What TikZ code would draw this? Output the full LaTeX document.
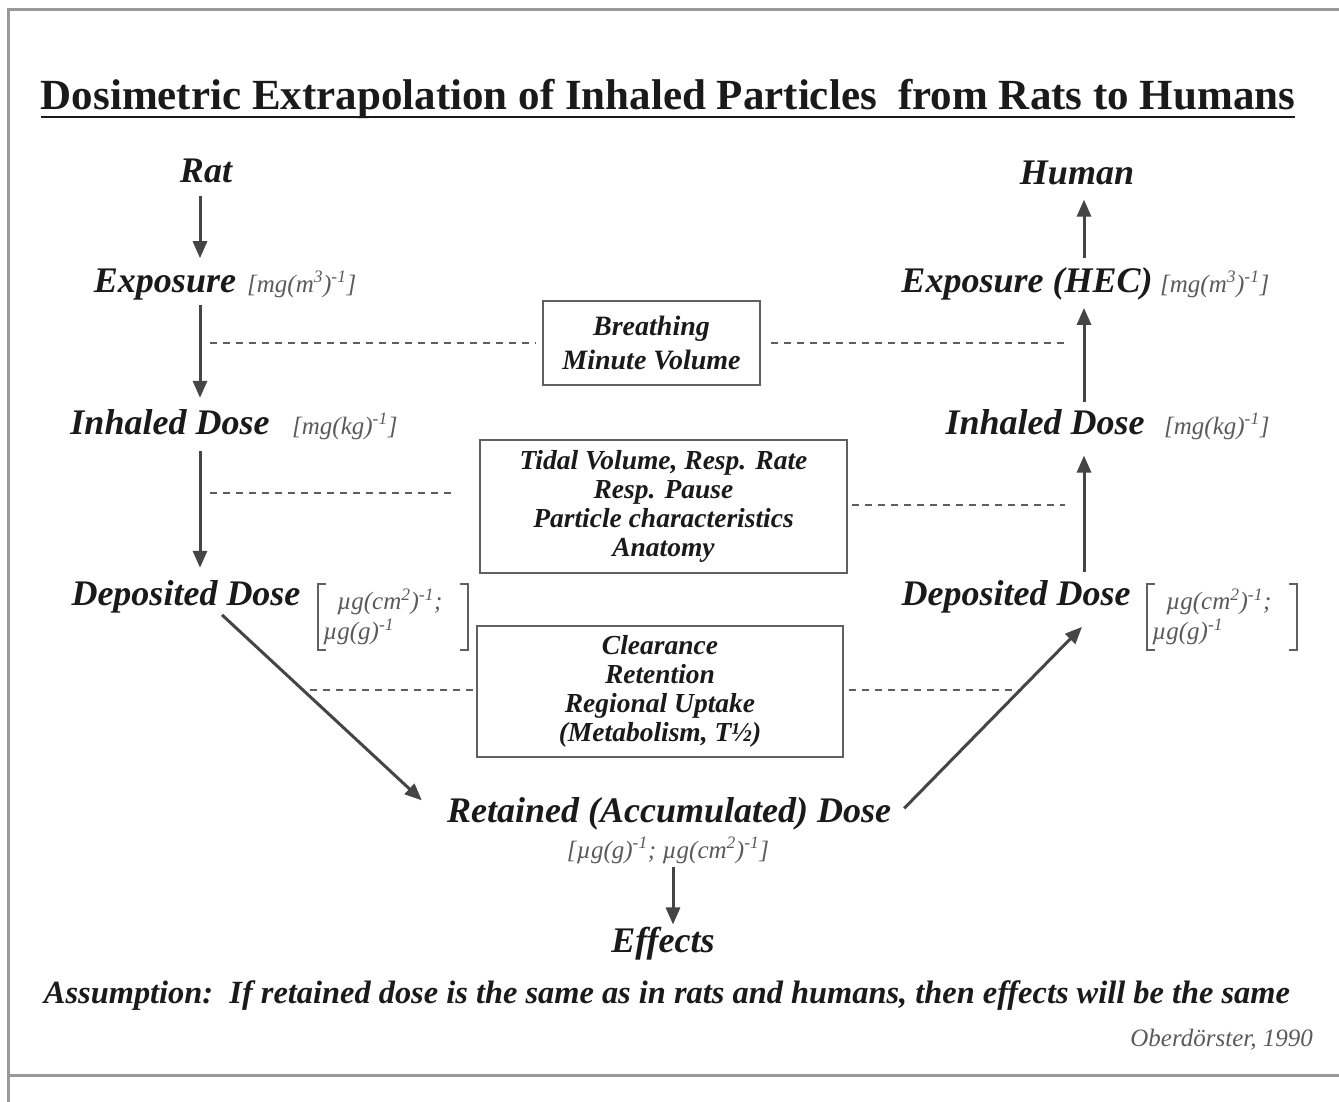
\documentclass[tikz,border=0pt]{standalone}
\usepackage{fontspec}
\setmainfont{Liberation Serif}
\usetikzlibrary{arrows.meta,calc}
\definecolor{txt}{HTML}{1A1A1A}
\definecolor{arrc}{HTML}{454545}
\definecolor{unitc}{HTML}{5A5A5A}
\definecolor{boxc}{HTML}{606060}
\definecolor{dashc}{HTML}{5E5E5E}
\definecolor{framec}{HTML}{9A9A9A}
\begin{document}
\begin{tikzpicture}[x=1pt,y=-1pt,
 lbl/.style={font=\fontsize{36}{40}\selectfont\bfseries\itshape, text=txt, inner sep=2pt, anchor=base},
 unit/.style={font=\fontsize{25}{28}\selectfont\itshape, text=unitc, inner sep=2pt, anchor=base west},
 unitbox/.style={font=\fontsize{25}{30}\selectfont\itshape, text=unitc, text width=140pt, align=left, inner xsep=5pt, inner ysep=3pt, minimum height=66pt},
 brk/.style={draw=boxc, line width=2pt},
 infobox/.style={draw=boxc, line width=2pt, font=\fontsize{28}{34}\selectfont\bfseries\itshape, text=txt, align=center, inner sep=0pt},
 arr/.style={draw=arrc, line width=3pt, -{Triangle[length=17pt,width=14pt]}},
 dsh/.style={draw=dashc, line width=2.6pt, dash pattern=on 7pt off 6pt}]

\useasboundingbox (0,0) rectangle (1339,1102);
\fill[white] (0,0) rectangle (1339,1102);
\draw[framec, line width=3pt] (1339,10) -- (8,10) -- (8,1102);
\draw[framec, line width=3pt] (8,1075) -- (1339,1075);

% title
\node[font=\fontsize{43}{48}\selectfont\bfseries, text=txt, anchor=base, inner sep=0pt] (title) at (668,110) {Dosimetric Extrapolation of Inhaled Particles\ \ from Rats to Humans};
\draw[txt, line width=2.5pt] ([yshift=-7pt]title.base west) -- ([yshift=-7pt]title.base east);

% left column
\node[lbl] (rat) at (206,183) {Rat};
\node[lbl] (expL) at (165,292) {Exposure};
\node[unit] (expLu) at (245,292) {[mg(m\textsuperscript{3})\textsuperscript{-1}]};
\node[lbl] (inhL) at (170,434) {Inhaled Dose};
\node[unit] (inhLu) at (290,434) {[mg(kg)\textsuperscript{-1}]};
\node[lbl] (depL) at (186,605) {Deposited Dose};
\node[unitbox] (depLu) at (393,617) {\hspace{14pt}µg(cm\textsuperscript{2})\textsuperscript{-1};\\µg(g)\textsuperscript{-1}};
\draw[brk] ([xshift=8pt]depLu.north west) -- (depLu.north west) -- (depLu.south west) -- ([xshift=8pt]depLu.south west);
\draw[brk] ([xshift=-8pt]depLu.north east) -- (depLu.north east) -- (depLu.south east) -- ([xshift=-8pt]depLu.south east);

% right column
\node[lbl] (hum) at (1077,185) {Human};
\node[lbl] (expR) at (1027,292) {Exposure (HEC)};
\node[unit] (expRu) at (1158,292) {[mg(m\textsuperscript{3})\textsuperscript{-1}]};
\node[lbl] (inhR) at (1045,434) {Inhaled Dose};
\node[unit] (inhRu) at (1162,434) {[mg(kg)\textsuperscript{-1}]};
\node[lbl] (depR) at (1016,605) {Deposited Dose};
\node[unitbox] (depRu) at (1222,617) {\hspace{14pt}µg(cm\textsuperscript{2})\textsuperscript{-1};\\µg(g)\textsuperscript{-1}};
\draw[brk] ([xshift=8pt]depRu.north west) -- (depRu.north west) -- (depRu.south west) -- ([xshift=8pt]depRu.south west);
\draw[brk] ([xshift=-8pt]depRu.north east) -- (depRu.north east) -- (depRu.south east) -- ([xshift=-8pt]depRu.south east);

% bottom
\node[lbl] (ret) at (669,822) {Retained (Accumulated) Dose};
\node[unit, anchor=base] (retu) at (668,858) {[µg(g)\textsuperscript{-1}; µg(cm\textsuperscript{2})\textsuperscript{-1}]};
\node[lbl] (eff) at (663,952) {Effects};
\node[font=\fontsize{32.4}{36}\selectfont\bfseries\itshape, text=txt, anchor=base, inner sep=0pt] (assume) at (667,1003) {Assumption:\ \ If retained dose is the same as in rats and humans, then effects will be the same};
\node[font=\fontsize{25}{28}\selectfont\itshape, text=unitc, anchor=base east, inner sep=0pt] (cite) at (1313,1046) {Oberdörster, 1990};

% boxes
\node[infobox, minimum width=217pt, minimum height=84pt] (b1) at (651.5,343) {Breathing\\Minute Volume};
\node[infobox, minimum width=367pt, minimum height=133pt, font=\fontsize{27.5}{29}\selectfont\bfseries\itshape] (b2) at (663.5,506.5) {Tidal Volume, Resp. Rate\\Resp. Pause\\Particle characteristics\\Anatomy};
\node[infobox, minimum width=366pt, minimum height=131pt, font=\fontsize{27.5}{29}\selectfont\bfseries\itshape] (b3) at (660,691.5) {Clearance\\Retention\\Regional Uptake\\(Metabolism, T½)};

% dashed guide lines
\coordinate (d1a) at (210,343);
\coordinate (d1b) at (1064,343);
\coordinate (d2a) at (210,493);
\coordinate (d2b) at (1065,505);
\coordinate (d3a) at (310,690);
\coordinate (d3b) at (1020,690);
\draw[dsh, shorten >=6pt] (d1a) -- (d1a -| b1.west);
\draw[dsh, shorten <=10pt] (d1b -| b1.east) -- (d1b);
\draw[dsh, shorten >=22pt] (d2a) -- (d2a -| b2.west);
\draw[dsh, shorten <=4pt] (d2b -| b2.east) -- (d2b);
\draw[dsh, shorten >=3pt] (d3a) -- (d3a -| b3.west);
\draw[dsh, shorten <=5pt] (d3b -| b3.east) -- (d3b);

% arrows
\coordinate (cL) at (200,0);
\coordinate (cR) at (1084,0);
\draw[arr, shorten <=10pt, shorten >=8pt] (rat.south -| cL) -- (expL.north -| cL);
\draw[arr, shorten <=3pt, shorten >=9pt] (expL.south -| cL) -- (inhL.north -| cL);
\draw[arr, shorten <=14pt, shorten >=10pt] (inhL.south -| cL) -- (depL.north -| cL);
\draw[arr] ([xshift=36pt]depL.south) -- ([xshift=-23pt,yshift=13pt]ret.west);
\draw[arr, shorten <=1pt] (retu.south -| 673,0) -- (eff.north -| 673,0);
\draw[arr] ([xshift=11pt,yshift=5pt]ret.east) -- ([xshift=66pt,yshift=-12pt]depR.south);
\draw[arr, shorten <=6pt, shorten >=19pt] (depR.north -| cR) -- (inhR.south -| cR);
\draw[arr, shorten <=5pt, shorten >=6pt] (inhR.north -| cR) -- (expR.south -| cR);
\draw[arr, shorten <=7pt, shorten >=12pt] (expR.north -| cR) -- (hum.south -| cR);
\end{tikzpicture}
\end{document}
